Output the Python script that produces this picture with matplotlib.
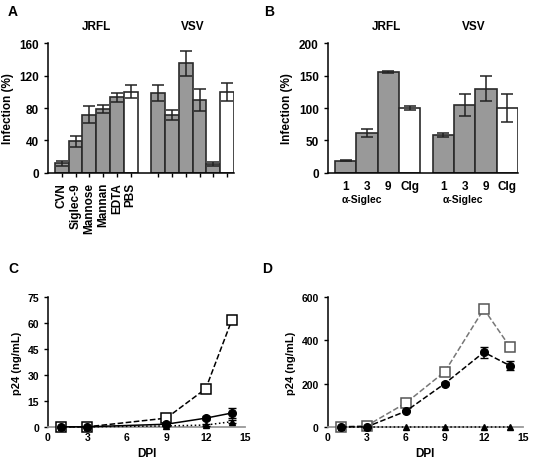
from matplotlib import pyplot as plt
import numpy as np

plt.rcParams['font.family'] = ['Liberation Sans', 'DejaVu Sans']
plt.rcParams['font.weight'] = 'bold'
plt.rcParams['axes.labelweight'] = 'bold'
plt.rcParams['axes.linewidth'] = 1.1

# ---- Panel A data ----
a_labels = ['CVN', 'Siglec-9', 'Mannose', 'Mannan', 'EDTA', 'PBS']
a_jrfl = [12, 39, 72, 79, 93, 100]
a_jrfl_err = [3, 7, 10, 5, 6, 8]
a_vsv = [99, 71, 135, 90, 11, 100]
a_vsv_err = [10, 6, 15, 14, 2, 11]

# ---- Panel B data ----
b_labels = ['1', '3', '9', 'CIg']
b_jrfl = [19, 61, 155, 100]
b_jrfl_err = [0.8, 6, 1.5, 3]
b_vsv = [59, 104, 130, 100]
b_vsv_err = [3, 17, 19, 21]

# ---- Panel C data ----
c_dpi = [1, 3, 9, 12, 14]
c_open = [0, 0, 5, 22, 62]
c_open_err = [0, 0, 0.8, 2, 1.5]
c_circ = [0, 0, 1.5, 5, 8]
c_circ_err = [0, 0, 0.5, 1, 3]
c_tri = [0, 0, 0.5, 1, 3]
c_tri_err = [0, 0, 0.2, 0.5, 1]

# ---- Panel D data ----
d_dpi = [1, 3, 6, 9, 12, 14]
d_open = [0, 5, 110, 255, 545, 370]
d_open_err = [0, 2, 5, 8, 8, 15]
d_circ = [0, 0, 72, 200, 345, 283]
d_circ_err = [0, 0, 5, 6, 25, 22]
d_tri = [0, 0, 0, 0, 0, 0]

fig = plt.figure(figsize=(5.33, 4.6), dpi=100)

bar_gray = '#999999'
edge = '#2a2a2a'
ekw = dict(ecolor='#222222', elinewidth=1.1, capsize=4, capthick=1.1)


def style_axes(ax, tick_size):
    ax.spines['top'].set_visible(False)
    ax.spines['right'].set_visible(False)
    ax.tick_params(labelsize=tick_size, width=1.0, length=3)
    for t in ax.get_xticklabels() + ax.get_yticklabels():
        t.set_fontweight('bold')


# ---------------- A ----------------
axA = fig.add_axes([0.090, 0.622, 0.349, 0.282])
xa1 = np.arange(1, 7)
xa2 = np.arange(8, 14)
colsA = [bar_gray] * 5 + ['white']
axA.bar(xa1, a_jrfl, width=1, color=colsA, edgecolor=edge, linewidth=1.2,
        yerr=a_jrfl_err, error_kw=ekw)
axA.bar(xa2, a_vsv, width=1, color=colsA, edgecolor=edge, linewidth=1.2,
        yerr=a_vsv_err, error_kw=ekw)
axA.set_xlim(0, 13.5)
axA.set_ylim(0, 160)
axA.set_yticks([0, 40, 80, 120, 160])
axA.set_xticks(list(xa1) + list(xa2))
axA.set_xticklabels(a_labels + [''] * 6, rotation=90)
axA.set_ylabel('Infection (%)', fontsize=8.5)
style_axes(axA, 8.5)
axA.text(3.5, 1.13, 'JRFL', transform=axA.get_xaxis_transform(),
         ha='center', va='center', fontsize=8.5, fontweight='bold')
axA.text(10.5, 1.13, 'VSV', transform=axA.get_xaxis_transform(),
         ha='center', va='center', fontsize=8.5, fontweight='bold')

# ---------------- B ----------------
axB = fig.add_axes([0.615, 0.622, 0.357, 0.282])
xb1 = np.arange(1, 5)
xb2 = np.arange(1, 5) + 4.57
colsB = [bar_gray] * 3 + ['white']
axB.bar(xb1, b_jrfl, width=1, color=colsB, edgecolor=edge, linewidth=1.2,
        yerr=b_jrfl_err, error_kw=ekw)
axB.bar(xb2, b_vsv, width=1, color=colsB, edgecolor=edge, linewidth=1.2,
        yerr=b_vsv_err, error_kw=ekw)
axB.set_xlim(0.17, 9.07)
axB.set_ylim(0, 200)
axB.set_yticks([0, 50, 100, 150, 200])
axB.set_xticks(list(xb1) + list(xb2))
axB.set_xticklabels(b_labels + b_labels)
axB.set_ylabel('Infection (%)', fontsize=8.5)
style_axes(axB, 8.5)
axB.tick_params(axis='x', length=0, pad=5)
for xc in [xb1[1] - 0.25, xb2[1] - 0.1]:
    axB.text(xc, -0.2, '\u03b1-Siglec', transform=axB.get_xaxis_transform(),
             ha='center', va='center', fontsize=7.5, fontweight='bold')
axB.text(2.9, 1.13, 'JRFL', transform=axB.get_xaxis_transform(),
         ha='center', va='center', fontsize=8.5, fontweight='bold')
axB.text(7.0, 1.13, 'VSV', transform=axB.get_xaxis_transform(),
         ha='center', va='center', fontsize=8.5, fontweight='bold')

# ---------------- C ----------------
axC = fig.add_axes([0.090, 0.070, 0.370, 0.282])
axC.errorbar(c_dpi, c_open, yerr=c_open_err, color='black', ls='--', lw=1.1,
             marker='s', ms=6.5, mfc='white', mec='black', mew=1.1,
             capsize=3, clip_on=False, zorder=3)
axC.errorbar(c_dpi, c_circ, yerr=c_circ_err, color='black', ls='-', lw=1.1,
             marker='o', ms=5.5, mfc='black', capsize=3, clip_on=False, zorder=4)
axC.errorbar(c_dpi, c_tri, yerr=c_tri_err, color='black', ls=':', lw=1.1,
             marker='^', ms=4.5, mfc='black', capsize=3, clip_on=False, zorder=4)
axC.set_xlim(0, 15)
axC.set_ylim(0, 75)
axC.set_xticks([0, 3, 6, 9, 12, 15])
axC.set_yticks([0, 15, 30, 45, 60, 75])
axC.set_xlabel('DPI', fontsize=8.5)
axC.set_ylabel('p24 (ng/mL)', fontsize=8)
style_axes(axC, 7.5)
axC.spines['bottom'].set_color('#999999')
axC.spines['bottom'].set_linewidth(1.3)
axC.tick_params(axis='x', length=0)

# ---------------- D ----------------
axD = fig.add_axes([0.615, 0.070, 0.366, 0.282])
axD.errorbar(d_dpi, d_open, yerr=d_open_err, color='#777777', ls='--', lw=1.1,
             marker='s', ms=6.5, mfc='white', mec='#555555', mew=1.1,
             capsize=3, clip_on=False, zorder=3)
axD.errorbar(d_dpi, d_circ, yerr=d_circ_err, color='black', ls='--', lw=1.1,
             marker='o', ms=5.5, mfc='black', capsize=3, clip_on=False, zorder=4)
axD.plot(d_dpi, d_tri, color='black', ls=':', lw=1.1,
         marker='^', ms=4.5, mfc='black', clip_on=False, zorder=4)
axD.set_xlim(0, 15)
axD.set_ylim(0, 600)
axD.set_xticks([0, 3, 6, 9, 12, 15])
axD.set_yticks([0, 200, 400, 600])
axD.set_xlabel('DPI', fontsize=8.5)
axD.set_ylabel('p24 (ng/mL)', fontsize=8)
style_axes(axD, 7.5)
axD.spines['bottom'].set_color('#999999')
axD.spines['bottom'].set_linewidth(1.3)
axD.tick_params(axis='x', length=0)

# panel letters
fig.text(0.015, 0.975, 'A', fontsize=10, fontweight='bold', va='center')
fig.text(0.495, 0.975, 'B', fontsize=10, fontweight='bold', va='center')
fig.text(0.015, 0.415, 'C', fontsize=10, fontweight='bold', va='center')
fig.text(0.492, 0.415, 'D', fontsize=10, fontweight='bold', va='center')

fig.savefig('out.png', dpi=100)
